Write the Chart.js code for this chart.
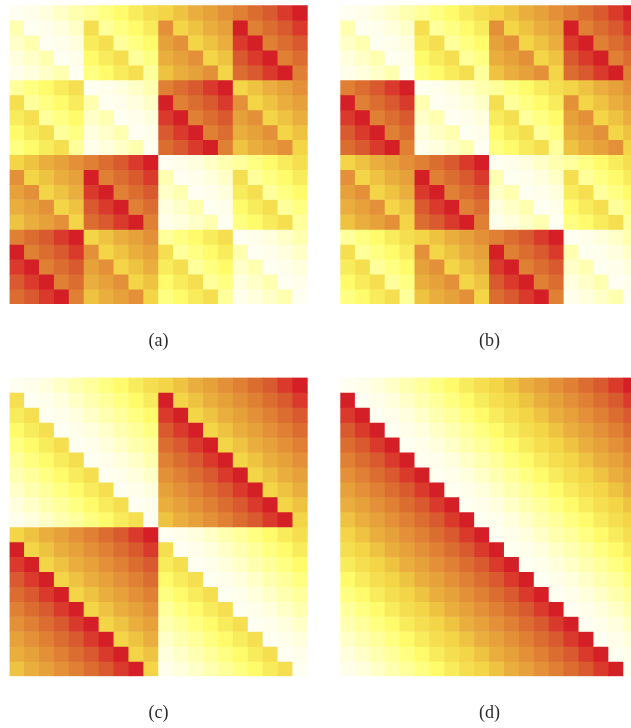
<!DOCTYPE html>
<html>
<head>
<meta charset="utf-8">
<title>Heat maps</title>
<script src="https://cdn.jsdelivr.net/npm/chart.js@4"></script>
<style>
    html, body { margin: 0; padding: 0; background: #fff; width: 631px; height: 728px; overflow: hidden; }
    canvas { position: absolute; }
</style>
</head>
<body>
<canvas id="chartA" style="left:9px;top:5px" width="300" height="348"></canvas>
<canvas id="chartB" style="left:340px;top:5px" width="300" height="348"></canvas>
<canvas id="chartC" style="left:9px;top:377px" width="300" height="348"></canvas>
<canvas id="chartD" style="left:340px;top:377px" width="300" height="348"></canvas>
<script>
const columns = ["1","2","3","4","5","6","7","8","9","10","11","12","13","14","15","16","17","18","19","20"]

// colour level of every cell
const levelsA = [
    [0,1,2,3,4,5,6,7,8,9,10,11,12,13,14,15,16,17,18,19],
    [4,0,1,2,3,9,5,6,7,8,14,10,11,12,13,19,15,16,17,18],
    [3,4,0,1,2,8,9,5,6,7,13,14,10,11,12,18,19,15,16,17],
    [2,3,4,0,1,7,8,9,5,6,12,13,14,10,11,17,18,19,15,16],
    [1,2,3,4,0,6,7,8,9,5,11,12,13,14,10,16,17,18,19,15],
    [5,6,7,8,9,0,1,2,3,4,15,16,17,18,19,10,11,12,13,14],
    [9,5,6,7,8,4,0,1,2,3,19,15,16,17,18,14,10,11,12,13],
    [8,9,5,6,7,3,4,0,1,2,18,19,15,16,17,13,14,10,11,12],
    [7,8,9,5,6,2,3,4,0,1,17,18,19,15,16,12,13,14,10,11],
    [6,7,8,9,5,1,2,3,4,0,16,17,18,19,15,11,12,13,14,10],
    [10,11,12,13,14,15,16,17,18,19,0,1,2,3,4,5,6,7,8,9],
    [14,10,11,12,13,19,15,16,17,18,4,0,1,2,3,9,5,6,7,8],
    [13,14,10,11,12,18,19,15,16,17,3,4,0,1,2,8,9,5,6,7],
    [12,13,14,10,11,17,18,19,15,16,2,3,4,0,1,7,8,9,5,6],
    [11,12,13,14,10,16,17,18,19,15,1,2,3,4,0,6,7,8,9,5],
    [15,16,17,18,19,10,11,12,13,14,5,6,7,8,9,0,1,2,3,4],
    [19,15,16,17,18,14,10,11,12,13,9,5,6,7,8,4,0,1,2,3],
    [18,19,15,16,17,13,14,10,11,12,8,9,5,6,7,3,4,0,1,2],
    [17,18,19,15,16,12,13,14,10,11,7,8,9,5,6,2,3,4,0,1],
    [16,17,18,19,15,11,12,13,14,10,6,7,8,9,5,1,2,3,4,0]
]

const levelsB = [
    [0,1,2,3,4,5,6,7,8,9,10,11,12,13,14,15,16,17,18,19],
    [4,0,1,2,3,9,5,6,7,8,14,10,11,12,13,19,15,16,17,18],
    [3,4,0,1,2,8,9,5,6,7,13,14,10,11,12,18,19,15,16,17],
    [2,3,4,0,1,7,8,9,5,6,12,13,14,10,11,17,18,19,15,16],
    [1,2,3,4,0,6,7,8,9,5,11,12,13,14,10,16,17,18,19,15],
    [15,16,17,18,19,0,1,2,3,4,5,6,7,8,9,10,11,12,13,14],
    [19,15,16,17,18,4,0,1,2,3,9,5,6,7,8,14,10,11,12,13],
    [18,19,15,16,17,3,4,0,1,2,8,9,5,6,7,13,14,10,11,12],
    [17,18,19,15,16,2,3,4,0,1,7,8,9,5,6,12,13,14,10,11],
    [16,17,18,19,15,1,2,3,4,0,6,7,8,9,5,11,12,13,14,10],
    [10,11,12,13,14,15,16,17,18,19,0,1,2,3,4,5,6,7,8,9],
    [14,10,11,12,13,19,15,16,17,18,4,0,1,2,3,9,5,6,7,8],
    [13,14,10,11,12,18,19,15,16,17,3,4,0,1,2,8,9,5,6,7],
    [12,13,14,10,11,17,18,19,15,16,2,3,4,0,1,7,8,9,5,6],
    [11,12,13,14,10,16,17,18,19,15,1,2,3,4,0,6,7,8,9,5],
    [5,6,7,8,9,10,11,12,13,14,15,16,17,18,19,0,1,2,3,4],
    [9,5,6,7,8,14,10,11,12,13,19,15,16,17,18,4,0,1,2,3],
    [8,9,5,6,7,13,14,10,11,12,18,19,15,16,17,3,4,0,1,2],
    [7,8,9,5,6,12,13,14,10,11,17,18,19,15,16,2,3,4,0,1],
    [6,7,8,9,5,11,12,13,14,10,16,17,18,19,15,1,2,3,4,0]
]

const levelsC = [
    [0,1,2,3,4,5,6,7,8,9,10,11,12,13,14,15,16,17,18,19],
    [9,0,1,2,3,4,5,6,7,8,19,10,11,12,13,14,15,16,17,18],
    [8,9,0,1,2,3,4,5,6,7,18,19,10,11,12,13,14,15,16,17],
    [7,8,9,0,1,2,3,4,5,6,17,18,19,10,11,12,13,14,15,16],
    [6,7,8,9,0,1,2,3,4,5,16,17,18,19,10,11,12,13,14,15],
    [5,6,7,8,9,0,1,2,3,4,15,16,17,18,19,10,11,12,13,14],
    [4,5,6,7,8,9,0,1,2,3,14,15,16,17,18,19,10,11,12,13],
    [3,4,5,6,7,8,9,0,1,2,13,14,15,16,17,18,19,10,11,12],
    [2,3,4,5,6,7,8,9,0,1,12,13,14,15,16,17,18,19,10,11],
    [1,2,3,4,5,6,7,8,9,0,11,12,13,14,15,16,17,18,19,10],
    [10,11,12,13,14,15,16,17,18,19,0,1,2,3,4,5,6,7,8,9],
    [19,10,11,12,13,14,15,16,17,18,9,0,1,2,3,4,5,6,7,8],
    [18,19,10,11,12,13,14,15,16,17,8,9,0,1,2,3,4,5,6,7],
    [17,18,19,10,11,12,13,14,15,16,7,8,9,0,1,2,3,4,5,6],
    [16,17,18,19,10,11,12,13,14,15,6,7,8,9,0,1,2,3,4,5],
    [15,16,17,18,19,10,11,12,13,14,5,6,7,8,9,0,1,2,3,4],
    [14,15,16,17,18,19,10,11,12,13,4,5,6,7,8,9,0,1,2,3],
    [13,14,15,16,17,18,19,10,11,12,3,4,5,6,7,8,9,0,1,2],
    [12,13,14,15,16,17,18,19,10,11,2,3,4,5,6,7,8,9,0,1],
    [11,12,13,14,15,16,17,18,19,10,1,2,3,4,5,6,7,8,9,0]
]

const levelsD = [
    [0,1,2,3,4,5,6,7,8,9,10,11,12,13,14,15,16,17,18,19],
    [19,0,1,2,3,4,5,6,7,8,9,10,11,12,13,14,15,16,17,18],
    [18,19,0,1,2,3,4,5,6,7,8,9,10,11,12,13,14,15,16,17],
    [17,18,19,0,1,2,3,4,5,6,7,8,9,10,11,12,13,14,15,16],
    [16,17,18,19,0,1,2,3,4,5,6,7,8,9,10,11,12,13,14,15],
    [15,16,17,18,19,0,1,2,3,4,5,6,7,8,9,10,11,12,13,14],
    [14,15,16,17,18,19,0,1,2,3,4,5,6,7,8,9,10,11,12,13],
    [13,14,15,16,17,18,19,0,1,2,3,4,5,6,7,8,9,10,11,12],
    [12,13,14,15,16,17,18,19,0,1,2,3,4,5,6,7,8,9,10,11],
    [11,12,13,14,15,16,17,18,19,0,1,2,3,4,5,6,7,8,9,10],
    [10,11,12,13,14,15,16,17,18,19,0,1,2,3,4,5,6,7,8,9],
    [9,10,11,12,13,14,15,16,17,18,19,0,1,2,3,4,5,6,7,8],
    [8,9,10,11,12,13,14,15,16,17,18,19,0,1,2,3,4,5,6,7],
    [7,8,9,10,11,12,13,14,15,16,17,18,19,0,1,2,3,4,5,6],
    [6,7,8,9,10,11,12,13,14,15,16,17,18,19,0,1,2,3,4,5],
    [5,6,7,8,9,10,11,12,13,14,15,16,17,18,19,0,1,2,3,4],
    [4,5,6,7,8,9,10,11,12,13,14,15,16,17,18,19,0,1,2,3],
    [3,4,5,6,7,8,9,10,11,12,13,14,15,16,17,18,19,0,1,2],
    [2,3,4,5,6,7,8,9,10,11,12,13,14,15,16,17,18,19,0,1],
    [1,2,3,4,5,6,7,8,9,10,11,12,13,14,15,16,17,18,19,0]
]

// one colour per level, pale cream up to red
const ramp = [
    "#fefff0","#fffeea","#ffffdd","#ffffc8","#ffffb0",
    "#ffff9c","#ffff82","#fffb6a","#f9ec5c","#f5de50",
    "#f3d547","#efc342","#e9ae3e","#e6a13b","#e39039",
    "#e08034","#dc6d31","#da5a2f","#d93a2c","#d41f26"
]

function drawPanel(id, levels, caption, pad) {
    const datasets = levels.map((row, r) => ({
        data: row.map(() => [r, r + 1]),
        backgroundColor: row.map(v => ramp[v]),
        borderWidth: 0,
        barPercentage: 1,
        categoryPercentage: 1
    }))

    new Chart(document.getElementById(id), {
        type: "bar",
        data: { labels: columns, datasets: datasets },
        options: {
            responsive: false,
            animation: false,
            grouped: false,
            layout: { padding: pad },
            plugins: { legend: { display: false }, tooltip: { enabled: false } },
            scales: {
                x: {
                    grid: { display: false },
                    border: { display: false },
                    ticks: { display: false },
                    title: {
                        display: true,
                        text: caption,
                        color: "#2a2a2a",
                        padding: 0,
                        font: { family: "'Liberation Serif'", size: 18, lineHeight: 1.2 }
                    },
                    afterFit: scale => { scale.height = 48.2 }
                },
                y: { display: false, reverse: true, min: 0, max: 20 }
            }
        }
    })
}

drawPanel("chartA", levelsA, "(a)", { left: 0.5, right: 1.3, top: 0.3, bottom: 0.7 })
drawPanel("chartB", levelsB, "(b)", { left: 0.3, right: 1.5, top: 0.3, bottom: 0.7 })
drawPanel("chartC", levelsC, "(c)", { left: 0.5, right: 1.3, top: 0.5, bottom: 0.5 })
drawPanel("chartD", levelsD, "(d)", { left: 0.3, right: 1.5, top: 0.5, bottom: 0.5 })
</script>
</body>
</html>
